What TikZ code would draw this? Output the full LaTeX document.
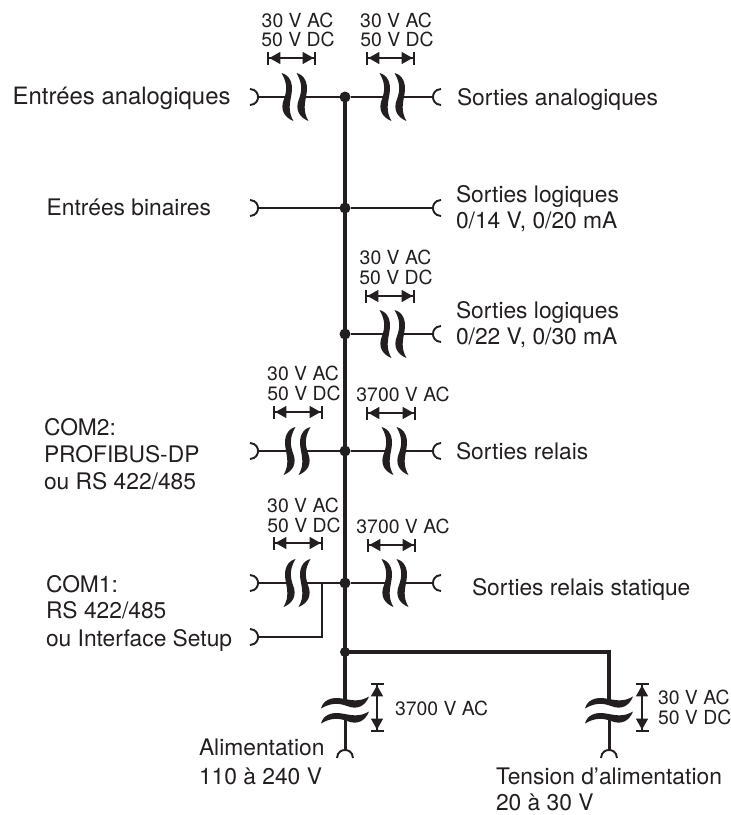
\documentclass[tikz,border=0pt]{standalone}
\usepackage{fontspec}
\setmainfont{TeX Gyre Heros}
\usetikzlibrary{arrows.meta}
\definecolor{ink}{HTML}{231F20}
\newcommand{\waveshape}{(-6,-24) .. controls (2,-22) and (6,-14) .. (4,-3)
   .. controls (2.5,6) and (0,14) .. (6,24)
   .. controls (-4,20) and (-7.5,12) .. (-3.5,2)
   .. controls (-0.5,-6) and (0,-14) .. cycle}
\tikzset{
  x=1pt,y=-1pt,
  every node/.style={inner sep=0pt,outer sep=0pt,text=ink},
  lbl/.style={font=\fontsize{22.8}{24}\selectfont,text height=16.4pt,text depth=0pt,anchor=west},
  lblw/.style={lbl,font=\fontsize{23.9}{25}\selectfont},
  vlt/.style={font=\fontsize{19.4}{20}\selectfont,text height=14pt,text depth=0pt,anchor=center},
  bus/.style={draw=ink,line width=4.6pt},
  wire/.style={draw=ink,line width=1.9pt},
  feed/.style={draw=ink,line width=3pt},
  gap/.style={draw=ink,line width=1.3pt,
    {Bar[width=13pt,line width=2.4pt]Triangle[length=11pt,width=12pt]}-{Triangle[length=11pt,width=12pt]Bar[width=13pt,line width=2.4pt]}},
  dot/.style={circle,fill=ink,minimum size=11pt},
  wavea/.pic={
    \fill[ink,shift={(-7.5,0)}] \waveshape;
    \fill[ink,shift={(7.5,0)}] \waveshape;
    \coordinate (-l) at (-9,0);
    \coordinate (-r) at (9,0);
  },
  plug/.pic={
    \draw[ink,line width=1.9pt] (-8,-8) .. controls (-1.5,-7.5) and (0,-3) .. (0,0)
      .. controls (0,3) and (-1.5,7.5) .. (-8,8);
    \coordinate (-c) at (0,0);
  },
}
\begin{document}
\begin{tikzpicture}
\useasboundingbox (0,0) rectangle (731,815);
% junctions
\node[dot] (j1) at (345,97) {};
\node[dot] (j2) at (345,208) {};
\node[dot] (j3) at (345,334) {};
\node[dot] (j4) at (345,451) {};
\node[dot] (j5) at (345,583) {};
\node[dot,minimum size=10pt] (j6) at (345,652) {};
\coordinate (corner) at (609,652);
\coordinate (tap) at (322,583);
\coordinate (tapb) at (322,637);
% waves
\pic (w1l) at (295,97) {wavea};
\pic (w1r) at (393,97) {wavea};
\pic (w3r) at (393,334) {wavea};
\pic[xscale=-1] (w4l) at (297,451) {wavea};
\pic (w4r) at (395,451) {wavea};
\pic[xscale=-1] (w5l) at (297,583) {wavea};
\pic (w5r) at (395,583) {wavea};
\pic[rotate=90] (wbl) at (345,710) {wavea};
\pic[rotate=90] (wbr) at (609,710) {wavea};
% plugs
\pic (p1l) at (258,97) {plug};
\pic[rotate=180] (p1r) at (433,97) {plug};
\pic (p2l) at (258,208) {plug};
\pic[rotate=180] (p2r) at (433,208) {plug};
\pic[rotate=180] (p3r) at (433,334) {plug};
\pic (p4l) at (258,451) {plug};
\pic[rotate=180] (p4r) at (433,451) {plug};
\pic (p5l) at (258,583) {plug};
\pic (p6l) at (258,637) {plug};
\pic[rotate=180] (p5r) at (433,583) {plug};
\pic[rotate=90] (pbl) at (345,750) {plug};
\pic[rotate=90] (pbr) at (609,750) {plug};
% bus
\draw[bus] (j1.center) -- (j6.center);
\draw[bus] (j6.center) -- (corner) -- (wbr-r);
\draw[bus] (j6.center) -- (wbl-r);
\draw[feed] (wbl-l) -- (pbl-c);
\draw[feed] (wbr-l) -- (pbr-c);
% wires
\draw[wire] (p1l-c) -- (w1l-l);
\draw[wire] (w1l-r) -- (j1);
\draw[wire] (j1) -- (w1r-l);
\draw[wire] (w1r-r) -- (p1r-c);
\draw[wire,line width=2.4pt] (p2l-c) -- (j2);
\draw[wire,line width=2.4pt] (j2) -- (p2r-c);
\draw[wire,line width=2.4pt] (j3) -- (w3r-l);
\draw[wire] (w3r-r) -- (p3r-c);
\draw[wire] (p4l-c) -- (w4l-r);
\draw[wire] (w4l-l) -- (j4);
\draw[wire,line width=2.4pt] (j4) -- (w4r-l);
\draw[wire] (w4r-r) -- (p4r-c);
\draw[wire] (p5l-c) -- (w5l-r);
\draw[wire,line width=2.4pt] (w5l-l) -- (j5);
\draw[wire,line width=2.4pt] (j5) -- (w5r-l);
\draw[wire] (w5r-r) -- (p5r-c);
\draw[wire,line width=1.6pt] (tap) -- (tapb) -- (p6l-c);
% isolation gaps
\coordinate (g1a) at (267,58); \coordinate (g1b) at (316,58);
\coordinate (g2a) at (366,58); \coordinate (g2b) at (415,58);
\coordinate (g3a) at (365,296); \coordinate (g3b) at (415,296);
\coordinate (g4a) at (273,412); \coordinate (g4b) at (323,412);
\coordinate (g5a) at (366,413); \coordinate (g5b) at (416,413);
\coordinate (g6a) at (273,543); \coordinate (g6b) at (323,543);
\coordinate (g7a) at (367,545); \coordinate (g7b) at (416,545);
\coordinate (g8a) at (377,683); \coordinate (g8b) at (377,732);
\coordinate (g9a) at (642,683); \coordinate (g9b) at (642,732);
\draw[gap] (g1a) -- (g1b);
\draw[gap] (g2a) -- (g2b);
\draw[gap] (g3a) -- (g3b);
\draw[gap] (g4a) -- (g4b);
\draw[gap] (g5a) -- (g5b);
\draw[gap] (g6a) -- (g6b);
\draw[gap] (g7a) -- (g7b);
\draw[gap] (g8a) -- (g8b);
\draw[gap] (g9a) -- (g9b);
% voltages
\node[vlt] (v1a) at (297.5,20) {30 V AC};
\node[vlt] (v1b) at (298,39) {50 V DC};
\node[vlt] (v2a) at (396,20) {30 V AC};
\node[vlt] (v2b) at (397,39) {50 V DC};
\node[vlt] (v3a) at (395.5,257) {30 V AC};
\node[vlt] (v3b) at (396,277) {50 V DC};
\node[vlt] (v4a) at (303,373) {30 V AC};
\node[vlt] (v4b) at (304,393) {50 V DC};
\node[vlt] (v5) at (403,394) {3700 V AC};
\node[vlt] (v6a) at (303,505) {30 V AC};
\node[vlt] (v6b) at (304,525) {50 V DC};
\node[vlt] (v7) at (403,526) {3700 V AC};
\node[vlt,anchor=west] (v8) at (395,708) {3700 V AC};
\node[vlt,anchor=west] (v9a) at (658,697) {30 V AC};
\node[vlt,anchor=west] (v9b) at (658,717) {50 V DC};
% labels
\node[lblw,anchor=east] (t1) at (230.5,96) {Entrées analogiques};
\node[lbl,anchor=east] (t2) at (211,207) {Entrées binaires};
\node[lbl] (t3) at (457,97) {Sorties analogiques};
\node[lbl] (t4a) at (456,194) {Sorties logiques};
\node[lbl] (t4b) at (456,220) {0/14 V, 0/20 mA};
\node[lbl] (t5a) at (456,310) {Sorties logiques};
\node[lbl] (t5b) at (456,336) {0/22 V, 0/30 mA};
\node[lbl] (t6) at (456,451) {Sorties relais};
\node[lbl] (t7) at (472,587) {Sorties relais statique};
\node[lbl] (t8a) at (44,427) {COM2:};
\node[lbl] (t8b) at (44,454) {PROFIBUS-DP};
\node[lbl] (t8c) at (44,481) {ou RS 422/485};
\node[lbl] (t9a) at (46,584) {COM1:};
\node[lbl] (t9b) at (46,610) {RS 422/485};
\node[lbl] (t9c) at (46,638) {ou Interface Setup};
\node[lbl] (t10a) at (199,747) {Alimentation};
\node[lbl] (t10b) at (199,776) {110 à 240 V};
\node[lbl] (t11a) at (496,776) {Tension d’alimentation};
\node[lbl] (t11b) at (496,802) {20 à 30 V};
\end{tikzpicture}
\end{document}
